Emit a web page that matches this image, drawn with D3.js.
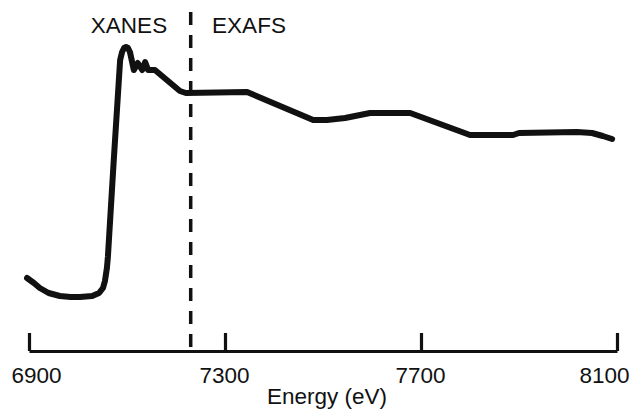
<!DOCTYPE html>
<html>
<head>
<meta charset="utf-8">
<script src="https://cdn.jsdelivr.net/npm/d3@7"></script>
<style>
  html, body { margin: 0; padding: 0; background: #fff; }
  svg { display: block; }
  text { font-family: "Liberation Sans", Arial, sans-serif; fill: #111; }
</style>
</head>
<body>
<svg id="chart" width="635" height="409"></svg>
<script>
// ---- data ----
const energy = [6896, 6910, 6922, 6940, 6963, 6985, 7004, 7029, 7043, 7051, 7055, 7059, 7061, 7073, 7086, 7090, 7094, 7098, 7102, 7106, 7114, 7122, 7131, 7137, 7143, 7157, 7208, 7220, 7345, 7480, 7508, 7545, 7596, 7678, 7800, 7888, 7900, 8018, 8049, 8071, 8090];
const absorbance = [0.076, 0.056, 0.036, 0.016, 0.004, 0.0, 0.0, 0.004, 0.016, 0.036, 0.064, 0.116, 0.16, 0.548, 0.948, 0.98, 0.996, 1.0, 0.996, 0.98, 0.908, 0.936, 0.908, 0.94, 0.908, 0.908, 0.824, 0.816, 0.82, 0.708, 0.708, 0.716, 0.736, 0.736, 0.648, 0.648, 0.656, 0.66, 0.656, 0.644, 0.632];
const tickValues = [6900, 7300, 7700, 8100];
const boundaryEnergy = 7230;
const regionLabels = ["XANES", "EXAFS"];
const axisTitle = "Energy (eV)";

// ---- layout ----
const svg = d3.select("#chart");
const x = d3.scaleLinear().domain([6900, 8100]).range([29, 617]);
const y = d3.scaleLinear().domain([0, 1]).range([297, 47]);
const axisY = 351;
const fontSize = 22.5;

// axis
const axis = d3.axisBottom(x)
  .tickValues(tickValues)
  .tickFormat(d3.format("d"))
  .tickSizeInner(-18)
  .tickSizeOuter(0)
  .tickPadding(16);

const gAxis = svg.append("g")
  .attr("transform", `translate(0,${axisY})`)
  .call(axis);
gAxis.select(".domain").attr("stroke", "#111").attr("stroke-width", 3.2);
gAxis.selectAll(".tick line").attr("stroke", "#111").attr("stroke-width", 3.2);
gAxis.selectAll(".tick text")
  .attr("font-size", fontSize)
  .attr("font-family", "Liberation Sans, Arial, sans-serif")
  .attr("fill", "#111")
  .attr("dx", (d, i) => i === 0 ? 7 : (i === tickValues.length - 1 ? -13 : -1));

// axis title
svg.append("text")
  .attr("x", 327)
  .attr("y", 404)
  .attr("text-anchor", "middle")
  .attr("font-size", fontSize)
  .text(axisTitle);

// dashed boundary
svg.append("line")
  .attr("x1", x(boundaryEnergy)).attr("x2", x(boundaryEnergy))
  .attr("y1", 12).attr("y2", axisY - 2)
  .attr("stroke", "#111")
  .attr("stroke-width", 3.5)
  .attr("stroke-dasharray", "13,10");

// region labels
svg.append("text")
  .attr("x", 129).attr("y", 33)
  .attr("text-anchor", "middle")
  .attr("font-size", fontSize)
  .text(regionLabels[0]);
svg.append("text")
  .attr("x", 249).attr("y", 33)
  .attr("text-anchor", "middle")
  .attr("font-size", fontSize)
  .text(regionLabels[1]);

// spectrum
const data = energy.map((e, i) => ({ e, a: absorbance[i] }));
const line = d3.line()
  .x(d => x(d.e))
  .y(d => y(d.a))
  .curve(d3.curveLinear);

svg.append("path")
  .datum(data)
  .attr("d", line)
  .attr("fill", "none")
  .attr("stroke", "#111")
  .attr("stroke-width", 6)
  .attr("stroke-linejoin", "round")
  .attr("stroke-linecap", "round");
</script>
</body>
</html>
